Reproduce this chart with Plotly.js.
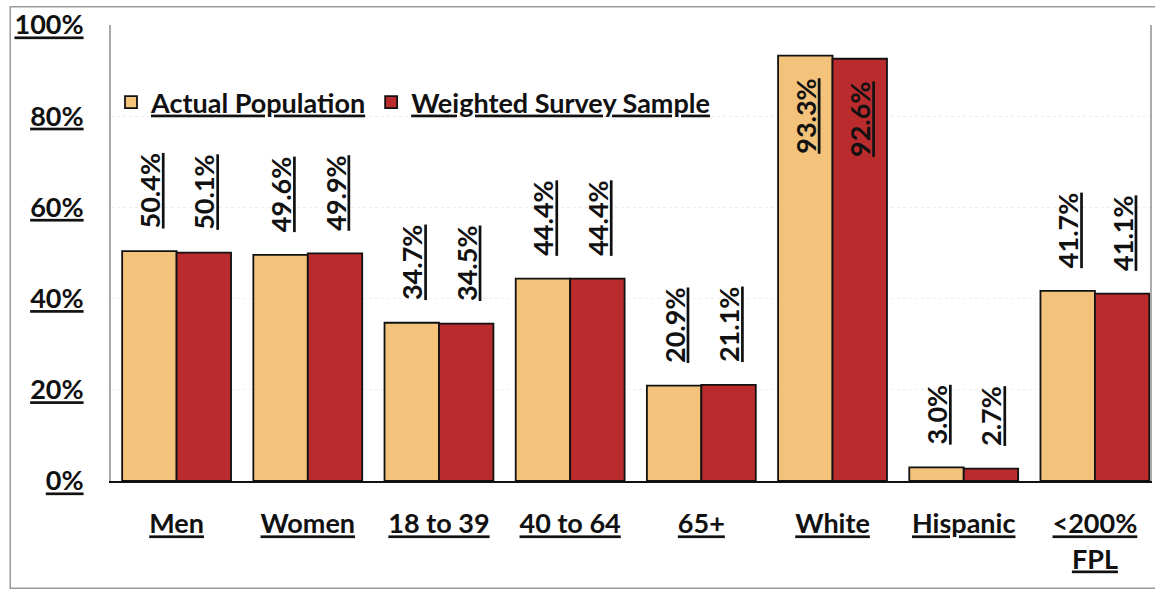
<!DOCTYPE html>
<html>
<head>
<meta charset="utf-8">
<script src="https://cdn.plot.ly/plotly-3.0.1.min.js"></script>
<style>html,body{margin:0;padding:0;background:#fff;}#chart{width:1155px;height:590px;}</style>
</head>
<body>
<div id="chart"></div>
<script>
const categories = ["Men", "Women", "18 to 39", "40 to 64", "65+", "White", "Hispanic", "<200%<br>FPL"];
const actualPopulation = [50.4, 49.6, 34.7, 44.4, 20.9, 93.3, 3.0, 41.7];
const weightedSample = [50.1, 49.9, 34.5, 44.4, 21.1, 92.6, 2.7, 41.1];
const yTickVals = [0, 20, 40, 60, 80, 100];
const yTickText = ["0%", "20%", "40%", "60%", "80%", "100%"];

const FONT = "Lato, 'Open Sans', sans-serif";
const GAP = "\u00a0\u00a0\u00a0";

function labels(vals) {
  return vals.map(v => {
    const s = '<span style="text-decoration:underline">' + v.toFixed(1) + '%</span>';
    return v > 85 ? s + GAP : GAP + s;
  });
}
function positions(vals) {
  return vals.map(v => v > 85 ? "inside" : "outside");
}

function trace(name, vals, color) {
  const f = {family: FONT, size: 27, color: "#111", weight: "bold"};
  return {
    type: "bar",
    name: name,
    x: categories,
    y: vals,
    text: labels(vals),
    textposition: positions(vals),
    texttemplate: "%{text}",
    textangle: -90,
    insidetextanchor: "end",
    constraintext: "none",
    cliponaxis: false,
    textfont: f,
    insidetextfont: f,
    outsidetextfont: f,
    marker: {color: color, line: {color: "#111", width: 1.8}},
    hoverinfo: "skip"
  };
}

const data = [
  trace("Actual Population", actualPopulation, "#F3C37B"),
  trace("Weighted Survey Sample", weightedSample, "#B92B2D")
];

const layout = {
  width: 1155,
  height: 590,
  margin: {l: 111, r: 5, t: 25, b: 109},
  paper_bgcolor: "#fff",
  plot_bgcolor: "#fff",
  barmode: "group",
  bargap: 0.17,
  bargroupgap: 0,
  showlegend: true,
  legend: {
    orientation: "h",
    x: 0, xanchor: "left",
    y: 0.83, yanchor: "middle",
    bgcolor: "rgba(0,0,0,0)",
    borderwidth: 0,
    font: {family: FONT, size: 27, color: "#111", weight: "bold", lineposition: "under"},
    itemclick: false,
    traceorder: "normal"
  },
  xaxis: {
    type: "category",
    range: [-0.5, 7.42],
    showline: true,
    linecolor: "#111",
    linewidth: 2,
    showgrid: false,
    ticks: "",
    ticklabelstandoff: 18,
    tickfont: {family: FONT, size: 27, color: "#111", weight: "bold", lineposition: "under"},
    fixedrange: true
  },
  yaxis: {
    range: [0, 100],
    tickvals: yTickVals,
    ticktext: yTickText,
    showline: true,
    mirror: true,
    linecolor: "#aaa",
    linewidth: 2,
    showgrid: true,
    gridcolor: "#eeeeee",
    griddash: "dot",
    zeroline: false,
    ticks: "",
    ticklabelstandoff: 20,
    tickfont: {family: FONT, size: 27, color: "#111", weight: "bold", lineposition: "under"},
    fixedrange: true
  },
  shapes: [
    {type: "rect", xref: "paper", yref: "paper", x0: -0.097, x1: 1.01, y0: -0.235, y1: 1.04,
     line: {color: "#999", width: 1.5}, fillcolor: "rgba(0,0,0,0)", layer: "below"}
  ]
};

Plotly.newPlot("chart", data, layout, {displayModeBar: false, staticPlot: true});
</script>
</body>
</html>
